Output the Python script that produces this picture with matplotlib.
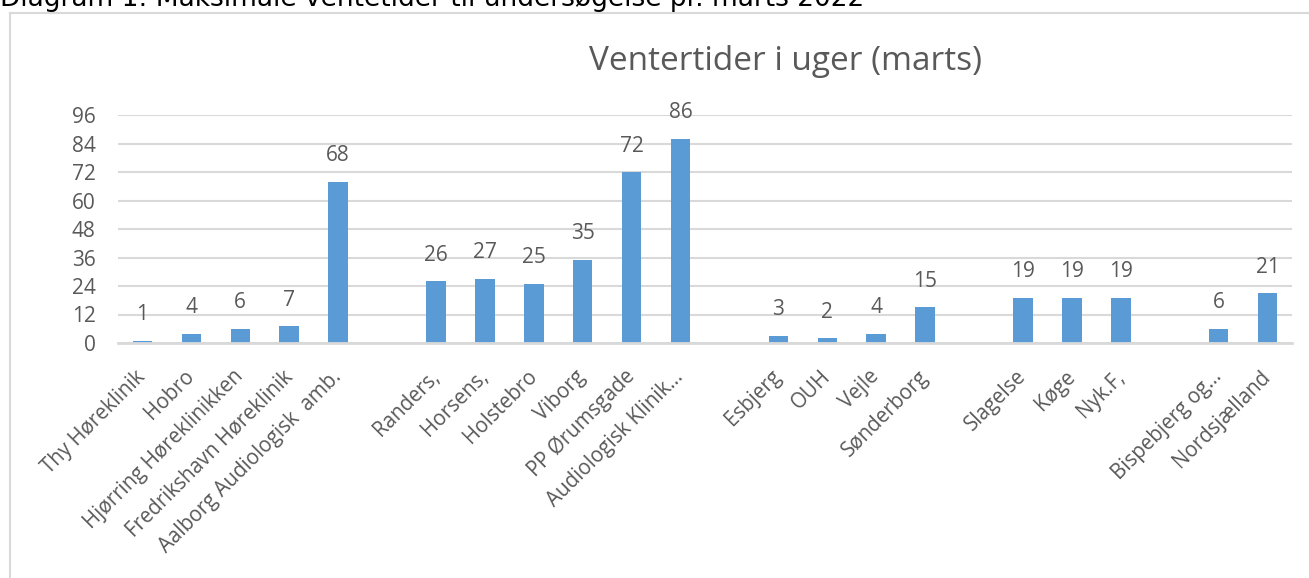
import numpy as np
import matplotlib
matplotlib.use("Agg")
import matplotlib.pyplot as plt
from matplotlib.lines import Line2D

plt.rcParams['font.family'] = ['Open Sans', 'DejaVu Sans']

categories = ["Thy Høreklinik", "Hobro", "Hjørring Høreklinikken", "Fredrikshavn Høreklinik",
              "Aalborg Audiologisk  amb.", "", "Randers,", "Horsens,", "Holstebro", "Viborg",
              "PP Ørumsgade", "Audiologisk Klinik…", "", "Esbjerg", "OUH", "Vejle", "Sønderborg",
              "", "Slagelse", "Køge", "Nyk.F,", "", "Bispebjerg og…", "Nordsjælland"]
values = [1, 4, 6, 7, 68, np.nan, 26, 27, 25, 35, 72, 86, np.nan, 3, 2, 4, 15,
          np.nan, 19, 19, 19, np.nan, 6, 21]
yticks = [0, 12, 24, 36, 48, 60, 72, 84, 96]
chart_title = "Ventertider i uger (marts)"
caption = "Diagram 1: Maksimale ventetider til undersøgelse pr. marts 2022"

W, H = 1309, 578
fig = plt.figure(figsize=(W / 100, H / 100), dpi=100)
grey = "#595959"
lgrey = "#D9D9D9"

ax = fig.add_axes([118 / W, 1 - 343 / H, (1292 - 118) / W, (343 - 115) / H])
x = np.arange(len(categories))
vals = np.array(values, dtype=float)
mask = ~np.isnan(vals)
ax.bar(x[mask], vals[mask], width=0.4, color="#5B9BD5", zorder=2)
for xi, v in zip(x[mask], vals[mask]):
    ax.annotate(f"{int(v)}", (xi, v), xytext=(0, 18.7), textcoords="offset points",
                ha="center", va="center", fontsize=15, color=grey)

ax.set_xlim(-0.5, len(categories) - 0.5)
ax.set_ylim(0, 96)
ax.set_yticks(yticks)
ax.set_yticklabels([str(t) for t in yticks])
ax.set_xticks(x)
ax.set_xticklabels(categories, rotation=45, ha="right", va="center", rotation_mode="anchor")
ax.tick_params(axis="y", length=0, pad=16, labelsize=15, labelcolor=grey)
ax.tick_params(axis="x", length=0, pad=22, labelsize=14.8, labelcolor=grey)
ax.grid(axis="y", color=lgrey, linewidth=1.5, zorder=0)
ax.set_axisbelow(True)
for s in ["top", "right", "left"]:
    ax.spines[s].set_visible(False)
ax.spines["bottom"].set_color(lgrey)
ax.spines["bottom"].set_linewidth(2)
ax.spines["bottom"].set_zorder(3)

fig.text(785 / W, 1 - 61 / H, chart_title, ha="center", va="center", fontsize=24, color=grey)

# chart frame
fig.add_artist(Line2D([10 / W, 10 / W], [0, 1 - 13 / H], color=lgrey, linewidth=1.5,
                      transform=fig.transFigure))
fig.add_artist(Line2D([10 / W, 1], [1 - 13 / H, 1 - 13 / H], color=lgrey, linewidth=1.5,
                      transform=fig.transFigure))

# cut-off caption at top
fig.text(0, 1 - 6 / H, caption, ha="left", va="baseline", fontsize=19,
         family="DejaVu Sans", color="black")

fig.savefig("out.png", dpi=100)
